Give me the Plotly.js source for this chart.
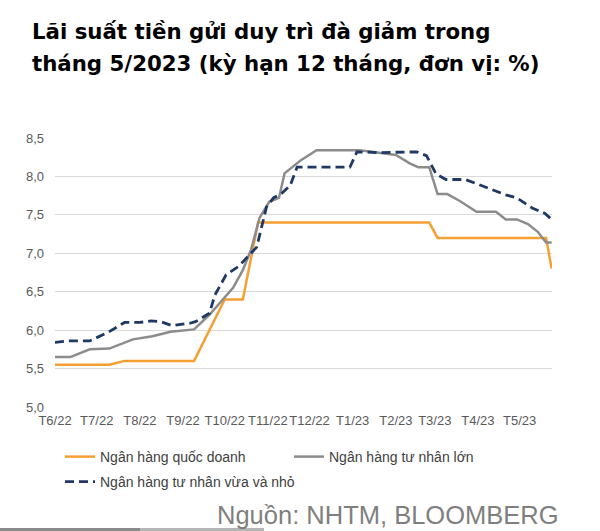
<!DOCTYPE html>
<html>
<head>
<meta charset="utf-8">
<script src="https://cdn.plot.ly/plotly-3.0.1.min.js"></script>
<style>
  html, body { margin: 0; padding: 0; background: #ffffff; }
  #chart { width: 600px; height: 531px; }
</style>
</head>
<body>
<div id="chart"></div>
<script>
// ---- Data ----
const monthTicks = ['2022-06-01','2022-07-01','2022-08-01','2022-09-01','2022-10-01','2022-11-01',
                    '2022-12-01','2023-01-01','2023-02-01','2023-03-01','2023-04-01','2023-05-01'];
const monthLabels = ['T6/22','T7/22','T8/22','T9/22','T10/22','T11/22',
                     'T12/22','T1/23','T2/23','T3/23','T4/23','T5/23'];

// Ngân hàng quốc doanh
const stateDates = ['2022-06-01','2022-07-10','2022-07-21','2022-09-09','2022-10-01','2022-10-14',
                    '2022-10-25','2023-02-25','2023-03-03','2023-05-20','2023-05-24'];
const stateRates = [5.55, 5.55, 5.60, 5.60, 6.40, 6.40, 7.40, 7.40, 7.20, 7.20, 6.80];

// Ngân hàng tư nhân lớn
const largeDates = ['2022-06-01','2022-06-12','2022-06-26','2022-07-10','2022-07-27','2022-08-10',
                    '2022-08-23','2022-09-09','2022-09-20','2022-09-29','2022-10-07','2022-10-14',
                    '2022-10-20','2022-10-26','2022-11-02','2022-11-09','2022-11-13','2022-11-24',
                    '2022-12-06','2023-01-06','2023-02-01','2023-02-11','2023-02-17','2023-02-25',
                    '2023-03-03','2023-03-10','2023-03-19','2023-03-31','2023-04-14','2023-04-21',
                    '2023-04-29','2023-05-07','2023-05-14','2023-05-20','2023-05-24'];
const largeRates = [5.65, 5.65, 5.75, 5.76, 5.88, 5.92,
                    5.98, 6.01, 6.20, 6.39, 6.55, 6.78,
                    7.05, 7.46, 7.67, 7.72, 8.04, 8.20,
                    8.34, 8.34, 8.28, 8.17, 8.12, 8.12,
                    7.77, 7.77, 7.68, 7.54, 7.54, 7.44,
                    7.44, 7.38, 7.28, 7.14, 7.14];

// Ngân hàng tư nhân vừa và nhỏ
const smallDates = ['2022-06-01','2022-06-10','2022-06-26','2022-07-09','2022-07-21','2022-08-01',
                    '2022-08-09','2022-08-16','2022-08-24','2022-09-06','2022-09-10','2022-09-20',
                    '2022-09-24','2022-10-02','2022-10-11','2022-10-21','2022-10-24','2022-10-31',
                    '2022-11-05','2022-11-11','2022-11-17','2022-11-22','2022-12-30','2023-01-04',
                    '2023-01-20','2023-02-16','2023-02-23','2023-03-02','2023-03-09','2023-03-23',
                    '2023-04-07','2023-04-21','2023-04-29','2023-05-10','2023-05-19','2023-05-24'];
const smallRates = [5.84, 5.86, 5.86, 5.97, 6.10, 6.10,
                    6.12, 6.11, 6.06, 6.09, 6.11, 6.22,
                    6.46, 6.72, 6.83, 7.02, 7.08, 7.60,
                    7.72, 7.78, 7.88, 8.12, 8.12, 8.32,
                    8.31, 8.32, 8.27, 8.03, 7.96, 7.96,
                    7.86, 7.76, 7.72, 7.59, 7.52, 7.44];

const seriesNames = ['Ngân hàng quốc doanh', 'Ngân hàng tư nhân lớn', 'Ngân hàng tư nhân vừa và nhỏ'];
const titleLine1 = 'Lãi suất tiền gửi duy trì đà giảm trong';
const titleLine2 = 'tháng 5/2023 (kỳ hạn 12 tháng, đơn vị: %)';
const sourceText = 'Nguồn: NHTM, BLOOMBERG';

// ---- Layout constants ----
const W = 600, H = 531;
const M = { l: 55, r: 48, t: 138, b: 124 };
const plotW = W - M.l - M.r, plotH = H - M.t - M.b;
const px2x = px => (px - M.l) / plotW;
const px2y = py => (H - M.b - py) / plotH;
const FONT = 'Liberation Sans, Arial, sans-serif';
const TFONT = 'DejaVu Sans, Liberation Sans, sans-serif';

const traces = [
  { x: stateDates, y: stateRates, name: seriesNames[0], type: 'scatter', mode: 'lines',
    line: { color: '#F6A033', width: 2.5 }, legend: 'legend' },
  { x: largeDates, y: largeRates, name: seriesNames[1], type: 'scatter', mode: 'lines',
    line: { color: '#8C8C8C', width: 2.5 }, legend: 'legend' },
  { x: smallDates, y: smallRates, name: seriesNames[2], type: 'scatter', mode: 'lines',
    line: { color: '#1F3864', width: 2.8, dash: '9px,5px' }, legend: 'legend2' }
];

const legendCommon = {
  orientation: 'h', xanchor: 'left', yanchor: 'middle',
  entrywidth: 184, entrywidthmode: 'pixels',
  font: { family: FONT, size: 14, color: '#404040' },
  bgcolor: 'rgba(0,0,0,0)', borderwidth: 0, itemwidth: 30
};

const layout = {
  width: W, height: H,
  margin: M,
  paper_bgcolor: '#ffffff', plot_bgcolor: '#ffffff',
  separators: ',.',
  font: { family: FONT, color: '#595959', size: 13 },
  showlegend: true,
  xaxis: {
    type: 'date',
    range: ['2022-06-01', '2023-05-24 06:00'],
    tickmode: 'array', tickvals: monthTicks, ticktext: monthLabels,
    tickangle: 0,
    showgrid: false, zeroline: false, showline: false,
    ticks: '', ticklabelstandoff: 4,
    tickfont: { family: FONT, size: 13, color: '#595959' },
    fixedrange: true
  },
  yaxis: {
    range: [5, 8.5], dtick: 0.5, tick0: 5, tickformat: '.1f',
    showgrid: true, gridcolor: '#D9D9D9', gridwidth: 1,
    zeroline: false, showline: false, ticks: '', ticklabelstandoff: 10,
    tickfont: { family: FONT, size: 13, color: '#595959' },
    fixedrange: true
  },
  legend: Object.assign({}, legendCommon, { x: px2x(60), y: px2y(457) }),
  legend2: Object.assign({}, legendCommon, { x: px2x(60), y: px2y(482), entrywidth: 300 }),
  annotations: [
    { text: '<b>' + titleLine1 + '</b>', xref: 'paper', yref: 'paper',
      x: px2x(30), y: px2y(46), xanchor: 'left', yanchor: 'bottom', showarrow: false,
      font: { family: TFONT, size: 21.3, color: '#000000' } },
    { text: '<b>' + titleLine2 + '</b>', xref: 'paper', yref: 'paper',
      x: px2x(30), y: px2y(78), xanchor: 'left', yanchor: 'bottom', showarrow: false,
      font: { family: TFONT, size: 21.3, color: '#000000' } },
    { text: sourceText, xref: 'paper', yref: 'paper',
      x: px2x(561), y: px2y(531), xanchor: 'right', yanchor: 'bottom', showarrow: false,
      font: { family: FONT, size: 25.5, color: '#7F7F7F' } }
  ],
  shapes: [
    { type: 'rect', xref: 'paper', yref: 'paper', layer: 'below',
      x0: px2x(0), x1: px2x(264), y0: px2y(531), y1: px2y(528),
      fillcolor: '#8A8A8A', line: { width: 0 } },
    { type: 'rect', xref: 'paper', yref: 'paper', layer: 'below',
      x0: px2x(140), x1: px2x(264), y0: px2y(531), y1: px2y(528),
      fillcolor: '#B5B5B5', line: { width: 0 } }
  ]
};

Plotly.newPlot('chart', traces, layout, { displayModeBar: false, staticPlot: true });
</script>
</body>
</html>
